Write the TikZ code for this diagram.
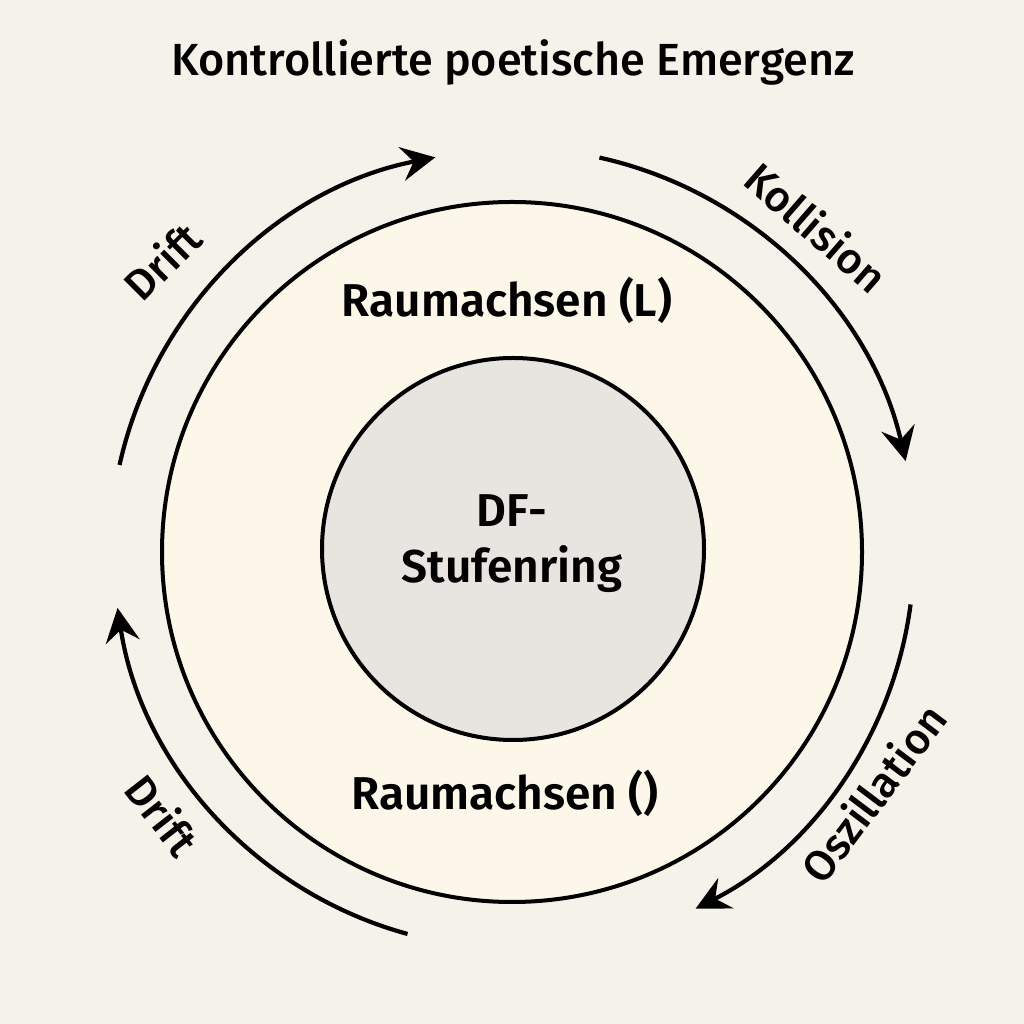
\documentclass[tikz,border=0pt]{standalone}
\usepackage{fontspec}
\setmainfont{Fira Sans}
\newfontfamily\medfont{Fira Sans Medium}
\newfontfamily\sbfont{Fira Sans SemiBold}
\usetikzlibrary{arrows.meta}
\definecolor{bg}{HTML}{F5F2E9}
\definecolor{ring}{HTML}{FCF7E8}
\definecolor{core}{HTML}{E8E4DF}
\tikzset{
  ringcircle/.style={circle, draw=black, line width=4pt, inner sep=0pt},
  flowarc/.style={line width=4.2pt, -{Stealth[length=34pt, width=34pt, inset=12pt]}},
  flowlabel/.style={font=\medfont\fontsize{43}{48}\selectfont, inner sep=0pt},
  mainlabel/.style={font=\sbfont\fontsize{46}{56}\selectfont, inner sep=0pt, align=center},
}
\begin{document}
\begin{tikzpicture}[x=1pt,y=1pt]
\fill[bg] (0,0) rectangle (1024,1024);
\useasboundingbox (0,0) rectangle (1024,1024);
\node[font=\medfont\fontsize{45}{50}\selectfont, inner sep=0pt] (title) at (513,962) {Kontrollierte poetische Emergenz};
\node[ringcircle, fill=ring, minimum size=700pt] (outer) at (512,472) {};
\node[ringcircle, fill=core, minimum size=382pt] (inner) at (513,475) {};
\node[mainlabel] (core) at (512,480) {DF-\\Stufenring};
\node[mainlabel] (ltop) at (507,724) {Raumachsen (L)};
\node[mainlabel] (lbot) at (505,231) {Raumachsen ()};
\coordinate (c) at (512,472);
\coordinate (a1s) at ([shift={(167.5:402)}]c);
\coordinate (a2s) at ([shift={(77.5:404)}]c);
\coordinate (a3s) at ([shift={(-7.5:402)}]c);
\coordinate (a4s) at ([shift={(254.7:396)}]c);
\draw[flowarc] (a1s) arc[start angle=167.5, end angle=101, radius=402];
\draw[flowarc] (a2s) arc[start angle=77.5, end angle=13, radius=404];
\draw[flowarc] (a3s) arc[start angle=-7.5, end angle=-63, radius=400];
\draw[flowarc] (a4s) arc[start angle=254.7, end angle=188.6, radius=400];
\node[flowlabel, rotate=45] (d1) at (162,763) {Drift};
\node[flowlabel, rotate=-41] (k) at (817,797) {Kollision};
\node[flowlabel, rotate=53] (o) at (873,231) {Oszillation};
\node[flowlabel, rotate=-52] (d2) at (163,209) {Drift};
\end{tikzpicture}
\end{document}
